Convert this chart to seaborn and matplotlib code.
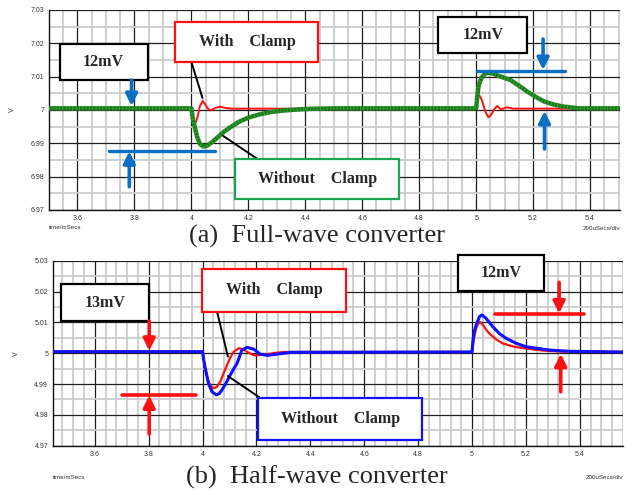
import numpy as np
import pandas as pd
import matplotlib.pyplot as plt
import seaborn as sns
from matplotlib.patches import Rectangle
from matplotlib.ticker import MultipleLocator

sns.set_style('white')
plt.rcParams['font.family'] = ['Liberation Serif', 'DejaVu Serif']

# (a) full-wave converter: output voltage (V) vs time (ms)
fw_clamp_t = [3.5, 4.0, 4.004, 4.009, 4.015, 4.022, 4.03, 4.04, 4.048, 4.056, 4.067, 4.08,
              4.1, 4.12, 4.14, 5.0, 5.004, 5.008, 5.014, 5.02, 5.032, 5.043, 5.052, 5.062,
              5.073, 5.087, 5.108, 5.13, 5.5]
fw_clamp_v = [7.0004, 7.0004, 6.998, 6.9958, 6.9962, 6.998, 7.0012, 7.0027, 7.0018, 7.0006,
              6.9998, 7.0005, 7.001, 7.0006, 7.0004, 7.0004, 7.003, 7.0047, 7.004, 7.003,
              6.9995, 6.9978, 6.9985, 7.0, 7.0012, 7.0002, 7.0008, 7.0004, 7.0004]
fw_noclamp_t = [3.5, 4.0, 4.004, 4.01, 4.02, 4.03, 4.043, 4.055, 4.075, 4.095, 4.115, 4.14,
                4.17, 4.2, 4.24, 4.28, 4.33, 4.4, 4.5, 5.0, 5.004, 5.008, 5.014, 5.02, 5.032,
                5.045, 5.06, 5.08, 5.1, 5.12, 5.15, 5.18, 5.21, 5.24, 5.27, 5.3, 5.33, 5.36,
                5.4, 5.5]
fw_noclamp_v = [7.0005, 7.0005, 6.998, 6.9955, 6.992, 6.9898, 6.989, 6.9893, 6.9905, 6.992,
                6.9935, 6.995, 6.9966, 6.9977, 6.9987, 6.9994, 6.9999, 7.0003, 7.0005, 7.0005,
                7.004, 7.007, 7.0087, 7.0098, 7.011, 7.0112, 7.0109, 7.0102, 7.0096, 7.009,
                7.0073, 7.0055, 7.0039, 7.0025, 7.0017, 7.0011, 7.0008, 7.0005, 7.0005, 7.0005]

# (b) half-wave converter
hw_clamp_t = [3.44, 4.0, 4.004, 4.01, 4.022, 4.032, 4.041, 4.052, 4.066, 4.078, 4.091, 4.104,
              4.116, 4.134, 4.15, 4.165, 4.18, 4.196, 4.22, 4.24, 4.27, 4.3, 5.0, 5.004, 5.01,
              5.019, 5.029, 5.041, 5.052, 5.064, 5.089, 5.113, 5.156, 5.193, 5.268, 5.342, 5.56]
hw_clamp_v = [5.0005, 5.0005, 4.998, 4.9946, 4.9908, 4.9892, 4.9886, 4.989, 4.9908, 4.9935,
              4.9962, 4.9988, 5.0005, 5.0016, 5.0013, 5.0005, 4.9997, 4.9993, 4.9995, 4.9997,
              5.0001, 5.0004, 5.0004, 5.003, 5.0064, 5.0091, 5.0102, 5.0091, 5.0077, 5.0064,
              5.0045, 5.0032, 5.0021, 5.0016, 5.0008, 5.0005, 5.0004]
hw_noclamp_t = [3.44, 4.0, 4.004, 4.01, 4.022, 4.035, 4.051, 4.062, 4.072, 4.087, 4.103, 4.116,
                4.128, 4.146, 4.165, 4.19, 4.214, 4.24, 4.277, 4.33, 5.0, 5.003, 5.009, 5.015,
                5.027, 5.037, 5.052, 5.077, 5.101, 5.127, 5.164, 5.2, 5.289, 5.363, 5.56]
hw_noclamp_v = [5.0005, 5.0005, 4.998, 4.9951, 4.9902, 4.9875, 4.9865, 4.9869, 4.9881, 4.9903,
                4.993, 4.995, 4.9967, 5.001, 5.0019, 5.0013, 4.9997, 4.9993, 4.9997, 5.0003,
                5.0004, 5.004, 5.0072, 5.0091, 5.0118, 5.0124, 5.0113, 5.0086, 5.0064, 5.0048,
                5.0032, 5.0021, 5.001, 5.0006, 5.0004]

x_ticks = [3.6, 3.8, 4.0, 4.2, 4.4, 4.6, 4.8, 5.0, 5.2, 5.4]
x_labels = ['3.6', '3.8', '4', '4.2', '4.4', '4.6', '4.8', '5', '5.2', '5.4']
fw_y_ticks = [6.97, 6.98, 6.99, 7.0, 7.01, 7.02, 7.03]
fw_y_labels = ['6.97', '6.98', '6.99', '7', '7.01', '7.02', '7.03']
hw_y_ticks = [4.97, 4.98, 4.99, 5.0, 5.01, 5.02, 5.03]
hw_y_labels = ['4.97', '4.98', '4.99', '5', '5.01', '5.02', '5.03']

RED = '#ff1010'
GREEN = '#187e18'
BLUE_A = '#0a6fc2'
BLUE = '#1010ff'
SANS = 'Liberation Sans'


def style_axes(ax, xlim, ylim, yticks, ylabels, xminor):
    ax.set_xlim(*xlim)
    ax.set_ylim(*ylim)
    ax.set_xticks(x_ticks, labels=x_labels, fontsize=5, fontfamily=SANS, color='#333333')
    ax.set_yticks(yticks, labels=ylabels, fontsize=5, fontfamily=SANS, color='#333333')
    ax.xaxis.set_minor_locator(MultipleLocator(xminor))
    ax.yaxis.set_minor_locator(MultipleLocator(0.005))
    ax.grid(which='minor', color='#cbcbcb', lw=1.3)
    ax.grid(which='major', color='#1e1e1e', lw=0.9)
    ax.set_axisbelow(True)
    ax.tick_params(which='major', length=2, width=0.8, pad=1.5)
    ax.tick_params(which='minor', length=0)
    for s in ['top', 'right']:
        ax.spines[s].set_visible(False)
    for s in ['left', 'bottom']:
        ax.spines[s].set_color('#111111')
        ax.spines[s].set_linewidth(1.0)
    ax.set_xlabel('')
    ax.set_ylabel('V', fontsize=5, fontfamily=SANS, color='#333333')
    ax.yaxis.set_label_coords(-0.058, 0.5)


def box(ax, x0, x1, y0, y1, color, label):
    ax.add_patch(Rectangle((x0, y0), x1 - x0, y1 - y0, fc='white', ec=color, lw=1.6,
                           zorder=6, clip_on=False))
    ax.text((x0 + x1) / 2, (y0 + y1) / 2, label, ha='center', va='center', fontsize=11.5,
            fontweight='bold', zorder=7, clip_on=False)


def arrow(ax, x, y_from, y_to, color):
    ax.annotate('', xy=(x, y_to), xytext=(x, y_from),
                arrowprops=dict(arrowstyle='-|>,head_length=0.7,head_width=0.35', color=color,
                                lw=2.6, shrinkA=0, shrinkB=0), zorder=8)


def leader(ax, p0, p1):
    ax.plot([p0[0], p1[0]], [p0[1], p1[1]], color='black', lw=1.4, zorder=5)


fig = plt.figure(figsize=(6.37, 4.95), dpi=100)
ax1 = fig.add_axes([0.0769, 0.5758, 0.8964, 0.404])
ax2 = fig.add_axes([0.0832, 0.0996, 0.8948, 0.3737])

# ---- (a) ----
fw_nc = pd.DataFrame({'t': fw_noclamp_t, 'v': fw_noclamp_v})
fw_c = pd.DataFrame({'t': fw_clamp_t, 'v': fw_clamp_v})
sns.lineplot(data=fw_c, x='t', y='v', ax=ax1, color=RED, lw=1.4, sort=False,
             estimator=None, zorder=3)
sns.lineplot(data=fw_nc, x='t', y='v', ax=ax1, color=GREEN, lw=3.2, sort=False,
             estimator=None, zorder=4)
# ripple texture on the unclamped trace
sns.lineplot(data=fw_nc, x='t', y='v', ax=ax1, color='#5fbf5f', lw=3.2, sort=False,
             estimator=None, zorder=4, alpha=0.55)
ax1.lines[-1].set_dashes((0.2, 0.55))
style_axes(ax1, (3.5, 5.505), (6.97, 7.03), fw_y_ticks, fw_y_labels, 0.05)

box(ax1, 3.537, 3.846, 7.009, 7.0198, 'black', '12mV')
arrow(ax1, 3.79, 7.009, 7.0012, BLUE_A)
ax1.plot([3.712, 4.084], [6.9877, 6.9877], color=BLUE_A, lw=2.4, zorder=5)
arrow(ax1, 3.782, 6.977, 6.9876, BLUE_A)
box(ax1, 3.944, 4.446, 7.0144, 7.0264, RED, 'With    Clamp')
leader(ax1, (4.0, 7.0144), (4.039, 7.0036))
box(ax1, 4.154, 4.73, 6.9733, 6.9853, '#1aa552', 'Without    Clamp')
leader(ax1, (4.112, 6.9922), (4.232, 6.9853))
box(ax1, 4.867, 5.179, 7.0171, 7.0279, 'black', '12mV')
ax1.plot([5.004, 5.312], [7.0118, 7.0118], color=BLUE_A, lw=2.4, zorder=5)
arrow(ax1, 5.235, 7.0213, 7.012, BLUE_A)
arrow(ax1, 5.24, 6.9883, 6.9997, BLUE_A)
ax1.text(0.0, -0.09, 'time/mSecs', transform=ax1.transAxes, fontsize=4.5, fontfamily=SANS,
         color='#333333', ha='left', va='center')
ax1.text(1.0, -0.095, '200uSecs/div', transform=ax1.transAxes, fontsize=4.5, fontfamily=SANS,
         color='#333333', ha='right', va='center')

# ---- (b) ----
hw_nc = pd.DataFrame({'t': hw_noclamp_t, 'v': hw_noclamp_v})
hw_c = pd.DataFrame({'t': hw_clamp_t, 'v': hw_clamp_v})
sns.lineplot(data=hw_c, x='t', y='v', ax=ax2, color=RED, lw=1.6, sort=False,
             estimator=None, zorder=3)
sns.lineplot(data=hw_nc, x='t', y='v', ax=ax2, color=BLUE, lw=2.2, sort=False,
             estimator=None, zorder=4)
style_axes(ax2, (3.445, 5.56), (4.97, 5.03), hw_y_ticks, hw_y_labels, 0.04)

box(ax2, 3.475, 3.802, 5.0104, 5.0223, 'black', '13mV')
arrow(ax2, 3.802, 5.0104, 5.0008, RED)
ax2.plot([3.701, 3.977], [4.9865, 4.9865], color=RED, lw=2.6, zorder=5)
arrow(ax2, 3.802, 4.9738, 4.9863, RED)
box(ax2, 3.999, 4.534, 5.0134, 5.0273, RED, 'With    Clamp')
leader(ax2, (4.054, 5.0134), (4.094, 4.9989))
box(ax2, 4.206, 4.816, 4.9717, 4.9856, BLUE, 'Without    Clamp')
leader(ax2, (4.094, 4.9926), (4.212, 4.9856))
box(ax2, 4.946, 5.268, 5.0203, 5.032, 'black', '12mV')
ax2.plot([5.086, 5.414], [5.0126, 5.0126], color=RED, lw=2.6, zorder=5)
arrow(ax2, 5.323, 5.023, 5.0129, RED)
arrow(ax2, 5.329, 4.9875, 4.9998, RED)
ax2.text(0.0, -0.173, 'time/mSecs', transform=ax2.transAxes, fontsize=4.5, fontfamily=SANS,
         color='#333333', ha='left', va='center')
ax2.text(1.0, -0.173, '200uSecs/div', transform=ax2.transAxes, fontsize=4.5, fontfamily=SANS,
         color='#333333', ha='right', va='center')

fig.text(0.497, 1 - 236 / 495, '(a)  Full-wave converter', fontsize=19, ha='center',
         va='center')
fig.text(0.497, 1 - 477 / 495, '(b)  Half-wave converter', fontsize=19, ha='center',
         va='center')

fig.savefig('out.png', dpi=100)
